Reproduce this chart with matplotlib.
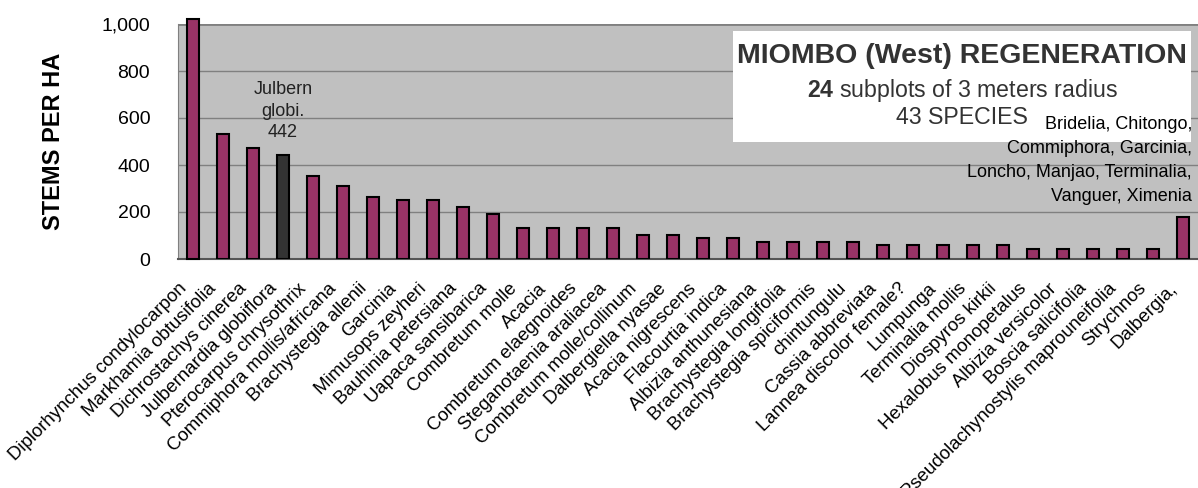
import numpy as np
import matplotlib
matplotlib.use("Agg")
import matplotlib.pyplot as plt
from matplotlib.patches import Rectangle
from matplotlib.ticker import StrMethodFormatter
from matplotlib.transforms import ScaledTranslation

plt.rcParams['font.family'] = ['Liberation Sans', 'DejaVu Sans']
plt.rcParams['mathtext.fontset'] = 'custom'
plt.rcParams['mathtext.rm'] = 'Liberation Sans'
plt.rcParams['mathtext.bf'] = 'Liberation Sans:bold'

species = ["Diplorhynchus condylocarpon", "Markhamia obtusifolia", "Dichrostachys cinerea",
           "Julbernardia globiflora", "Pterocarpus chrysothrix", "Commiphora mollis/africana",
           "Brachystegia allenii", "Garcinia", "Mimusops zeyheri", "Bauhinia petersiana",
           "Uapaca sansibarica", "Combretum molle", "Acacia", "Combretum elaegnoides",
           "Steganotaenia araliacea", "Combretum molle/collinum", "Dalbergiella nyasae",
           "Acacia nigrescens", "Flacourtia indica", "Albizia anthunesiana",
           "Brachystegia longifolia", "Brachystegia spiciformis", "chintungulu",
           "Cassia abbreviata", "Lannea discolor female?", "Lumpunga", "Terminalia mollis",
           "Diospyros kirkii", "Hexalobus monopetalus", "Albizia versicolor",
           "Boscia salicifolia", "Pseudolachynostylis maprouneifolia", "Strychnos", "Dalbergia,"]
stems = [1020, 530, 472, 442, 354, 310, 265, 250, 250, 221, 192, 133, 133, 133, 133,
         103, 103, 88, 88, 74, 74, 74, 74, 59, 59, 59, 59, 59, 44, 44, 44, 44, 44, 177]
highlight = "Julbernardia globiflora"
yticks = [0, 200, 400, 600, 800, 1000]
others = ["Bridelia, Chitongo,", "Commiphora, Garcinia,",
          "Loncho, Manjao, Terminalia,", "Vanguer, Ximenia"]

fig = plt.figure(figsize=(11.98, 4.88), dpi=100)
ax = fig.add_axes([178 / 1198, 229 / 488, 1020 / 1198, 235 / 488])
ax.set_facecolor('#c0c0c0')

x = np.arange(len(species))
colors = ['#333333' if s == highlight else '#993366' for s in species]
bars = ax.bar(x, stems, width=0.4, color=colors, edgecolor='black', linewidth=1.5, zorder=3)
bars[0].set_clip_on(False)

ax.set_xlim(-0.5, len(species) - 0.5)
ax.set_ylim(0, 1000)
ax.set_yticks(yticks)
ax.yaxis.set_major_formatter(StrMethodFormatter('{x:,.0f}'))
ax.grid(axis='y', color='#808080', linewidth=1, zorder=0)
ax.tick_params(axis='y', length=0, pad=20, labelsize=14)
ax.tick_params(axis='x', length=0, pad=0)
ax.set_xticks(x)
ax.set_xticklabels(species, rotation=45, ha='right', va='center', rotation_mode='anchor', fontsize=13.4)
shift = ScaledTranslation(-9 / 100, -27 / 100, fig.dpi_scale_trans)
for lab in ax.get_xticklabels():
    lab.set_transform(lab.get_transform() + shift)

for side in ['top', 'right']:
    ax.spines[side].set_visible(False)
ax.axhline(1000, color='#808080', linewidth=2, zorder=2)
ax.spines['left'].set_color('#808080')
ax.spines['bottom'].set_color('#555555')
ax.spines['bottom'].set_linewidth(1.5)

fig.text(54 / 1198, 0.71, 'STEMS PER HA', rotation=90, ha='center', va='center',
         fontsize=17, fontweight='bold')

hi = species.index(highlight)
ax.text(hi, 628, 'Julbern\nglobi.\n%d' % stems[hi], ha='center', va='center',
        fontsize=13, color='#222222', linespacing=1.35, zorder=4)

ax.add_patch(Rectangle((0.544, 0.498), 0.449, 0.472, transform=ax.transAxes,
                       facecolor='white', edgecolor='none', zorder=4))
ax.text(0.769, 0.862, 'MIOMBO (West) REGENERATION', transform=ax.transAxes, ha='center',
        va='center', fontsize=20.5, fontweight='bold', color='#333333', zorder=5)
ax.text(0.769, 0.718, r'$\mathbf{24}$ subplots of 3 meters radius', transform=ax.transAxes,
        ha='center', va='center', fontsize=16.7, color='#333333', zorder=5)
ax.text(0.769, 0.600, '43 SPECIES', transform=ax.transAxes, ha='center', va='center',
        fontsize=16.7, color='#333333', zorder=5)
for i, line in enumerate(others):
    ax.text(0.994, 0.574 - i * 0.103, line, transform=ax.transAxes, ha='right',
            va='center', fontsize=13, color='black', zorder=6)

fig.savefig('out.png', dpi=100)
